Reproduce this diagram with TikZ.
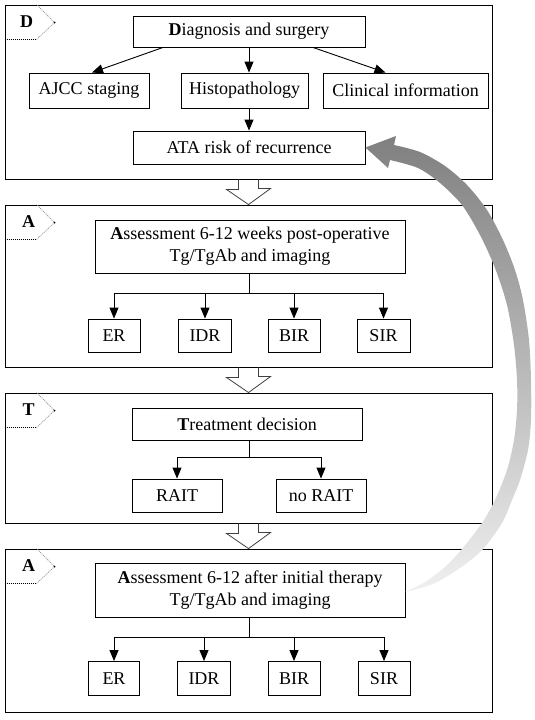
\documentclass[tikz,border=0pt]{standalone}
\usepackage{fontspec}
\setmainfont{Liberation Serif}
\usepackage{tikz}
\usetikzlibrary{arrows.meta}

\tikzset{
  panel/.style={draw, line width=0.9pt, inner sep=0pt},
  box/.style={draw, line width=0.9pt, inner sep=0pt, align=center,
    font=\fontsize{18pt}{22pt}\selectfont},
  tag/.style={inner sep=0pt, font=\fontsize{18pt}{22pt}\selectfont\bfseries},
  arr/.style={line width=0.9pt, -{Triangle[length=11pt,width=9pt]}},
  hollow/.style={line width=0.8pt, draw=black!75, line join=miter},
  tagline/.style={line width=0.8pt, dash pattern=on 1pt off 1pt},
}

\begin{document}
\begin{tikzpicture}[x=1pt,y=-1pt]
\useasboundingbox (0,0) rectangle (535,720);

% panels
\node[panel, minimum width=487pt, minimum height=174pt] (pD) at (248.5,92) {};
\node[panel, minimum width=487pt, minimum height=162pt] (pA) at (248.5,286) {};
\node[panel, minimum width=487pt, minimum height=130pt] (pT) at (248.5,458) {};
\node[panel, minimum width=487pt, minimum height=163pt] (pB) at (248.5,630.5) {};

% panel tags
\node[tag] (tD) at ([xshift=22pt,yshift=-17pt]pD.north west) {D};
\node[tag] (tA) at ([xshift=24pt,yshift=-17pt]pA.north west) {A};
\node[tag] (tT) at ([xshift=24pt,yshift=-17pt]pT.north west) {T};
\node[tag] (tB) at ([xshift=24pt,yshift=-17pt]pB.north west) {A};
\foreach \p in {pD,pA,pT,pB}{
  \draw[tagline] ([yshift=-35pt]\p.north west) -- ++(32,0) coordinate (c\p);
  \draw[tagline, black!40] (c\p) -- ++(18,-17) coordinate (d\p) -- ++(-18,-18);
  \fill (d\p) circle (1pt);
}

%-------------------------------------
% D: diagnosis
\node[box, minimum width=232pt, minimum height=31pt] (diag) at (249,31.5) {\textbf{D}iagnosis and surgery};
\node[box, minimum width=120pt, minimum height=35pt] (ajcc) at (89,90.5) {AJCC staging};
\node[box, minimum width=127pt, minimum height=35pt] (histo) at (244.5,90.5) {Histopathology};
\node[box, minimum width=165pt, minimum height=35pt] (clin) at (405.5,90.5) {Clinical information};
\node[box, minimum width=232pt, minimum height=33pt] (ata) at (249,147.5) {ATA risk of recurrence};

\draw[arr] ([xshift=-86pt]diag.south) -- ([xshift=3pt]ajcc.north);
\draw[arr] (diag.south) -- (diag.south |- histo.north);
\draw[arr] ([xshift=64pt]diag.south) -- ([xshift=-20pt]clin.north);
\draw[arr] (diag.south |- histo.south) -- (ata.north);

%-------------------------------------
% A: assessment post-operative
\node[box, minimum width=310pt, minimum height=53pt] (assA) at (250,246.5)
  {\textbf{A}ssessment 6-12 weeks post-operative\\Tg/TgAb and imaging};
\node[box, minimum width=52pt, minimum height=33pt] (erA) at (114,335.5) {ER};
\node[box, minimum width=53pt, minimum height=33pt] (idrA) at (205,335.5) {IDR};
\node[box, minimum width=52pt, minimum height=33pt] (birA) at (294,335.5) {BIR};
\node[box, minimum width=53pt, minimum height=33pt] (sirA) at (383.5,335.5) {SIR};
\foreach \n in {erA,idrA,birA,sirA}
  \draw[arr] ([xshift=-1pt]assA.south) -- ++(0,20) -| (\n.north);

%-------------------------------------
% T: treatment
\node[box, minimum width=230pt, minimum height=32pt] (treat) at (247,424) {\textbf{T}reatment decision};
\node[box, minimum width=90pt, minimum height=33pt] (rait) at (177,495.5) {RAIT};
\node[box, minimum width=90pt, minimum height=33pt] (norait) at (321,495.5) {no RAIT};
\foreach \n in {rait,norait}
  \draw[arr] ([xshift=2pt]treat.south) -- ++(0,17) -| (\n.north);

%-------------------------------------
% A: assessment after initial therapy
\node[box, minimum width=310pt, minimum height=54pt] (assB) at (250,590)
  {\textbf{A}ssessment 6-12 after initial therapy\\Tg/TgAb and imaging};
\node[box, minimum width=51pt, minimum height=34pt] (erB) at (114,678.5) {ER};
\node[box, minimum width=53pt, minimum height=34pt] (idrB) at (204,678.5) {IDR};
\node[box, minimum width=52pt, minimum height=34pt] (birB) at (294,678.5) {BIR};
\node[box, minimum width=52pt, minimum height=34pt] (sirB) at (384,678.5) {SIR};
\foreach \n in {erB,idrB,birB,sirB}
  \draw[arr] ([xshift=-1pt]assB.south) -- ++(0,20) -| (\n.north);

%-------------------------------------
% hollow arrows between panels
\foreach \a/\b in {pD/pA,pA/pT,pT/pB}
  \draw[hollow] ([xshift=-10pt]\a.south) -- ++(0,10) -- ++(-12,0) -- (\b.north)
    -- ++(22,-16) -- ++(-12,0) -- ([xshift=10pt]\a.south);

% feedback arrow
\shade[top color=black!50, bottom color=black!6]
  plot[smooth] coordinates {(405,592) (433,584) (460,568) (483,549) (502,523)
    (512,500) (520,480) (528,450) (531,420) (531,380) (529,340) (523,300)
    (515,270) (503,240) (487,210) (467,185) (445,166) (420,152) (394,145)}
  -- (396,136) -- (ata.east) -- (388,168) --
  plot[smooth] coordinates {(390,160) (418,168) (440,183) (462,205) (480,235)
    (495,268) (507,305) (514,345) (517,380) (517,410) (514,440) (507,470)
    (495,500) (482,523) (462,549) (445,567) (425,582) (405,592)} -- cycle;
\end{tikzpicture}
\end{document}
